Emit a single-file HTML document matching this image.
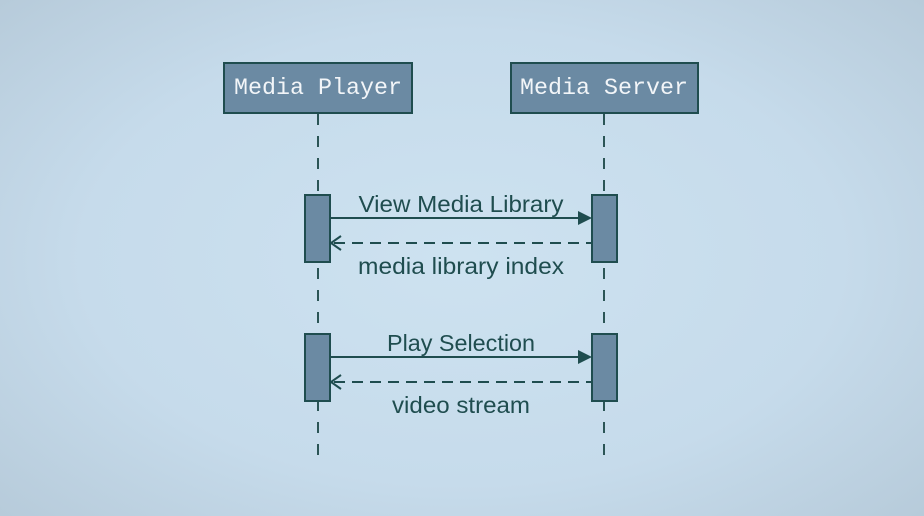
<!DOCTYPE html>
<html><head><meta charset="utf-8"><style>
html,body{margin:0;padding:0;width:924px;height:516px;overflow:hidden}
body{background:radial-gradient(ellipse 75% 80% at 50% 50%,#cde2f0 0%,#c6dbeb 55%,#b3c7d6 100%)}
svg{position:absolute;left:0;top:0}
</style></head><body>
<svg width="924" height="516" viewBox="0 0 924 516">
<g stroke="#2b5556" stroke-width="2" stroke-dasharray="11,11" fill="none">
<line x1="318" y1="114" x2="318" y2="462"/>
<line x1="604" y1="114" x2="604" y2="462"/>
</g>
<g fill="#6b8aa3" stroke="#1f4d4f" stroke-width="2">
<rect x="224" y="63" width="188" height="50"/>
<rect x="511" y="63" width="187" height="50"/>
<rect x="305" y="195" width="25" height="67"/>
<rect x="592" y="195" width="25" height="67"/>
<rect x="305" y="334" width="25" height="67"/>
<rect x="592" y="334" width="25" height="67"/>
</g>
<g font-family="Liberation Mono, monospace" font-size="23" fill="#f2f5f8" text-anchor="middle">
<text x="318" y="94" textLength="168" lengthAdjust="spacingAndGlyphs">Media Player</text>
<text x="604" y="94" textLength="168" lengthAdjust="spacingAndGlyphs">Media Server</text>
</g>
<g stroke="#1f4d4f" stroke-width="2" fill="none">
<line x1="330" y1="218" x2="580" y2="218"/>
<line x1="330" y1="357" x2="580" y2="357"/>
<line x1="334" y1="243" x2="591" y2="243" stroke-dasharray="11,7"/>
<line x1="334" y1="382" x2="591" y2="382" stroke-dasharray="11,7"/>
<polyline points="341,236 331,243 341,250"/>
<polyline points="341,375 331,382 341,389"/>
</g>
<g fill="#1f4d4f">
<polygon points="578,211 592,218 578,225"/>
<polygon points="578,350 592,357 578,364"/>
</g>
<g font-family="Liberation Sans, sans-serif" font-size="23" fill="#1f4d4f" text-anchor="middle">
<text x="461" y="212" textLength="205" lengthAdjust="spacingAndGlyphs">View Media Library</text>
<text x="461" y="274" textLength="206" lengthAdjust="spacingAndGlyphs">media library index</text>
<text x="461" y="351" textLength="148" lengthAdjust="spacingAndGlyphs">Play Selection</text>
<text x="461" y="413" textLength="138" lengthAdjust="spacingAndGlyphs">video stream</text>
</g>
</svg>
</body></html>
